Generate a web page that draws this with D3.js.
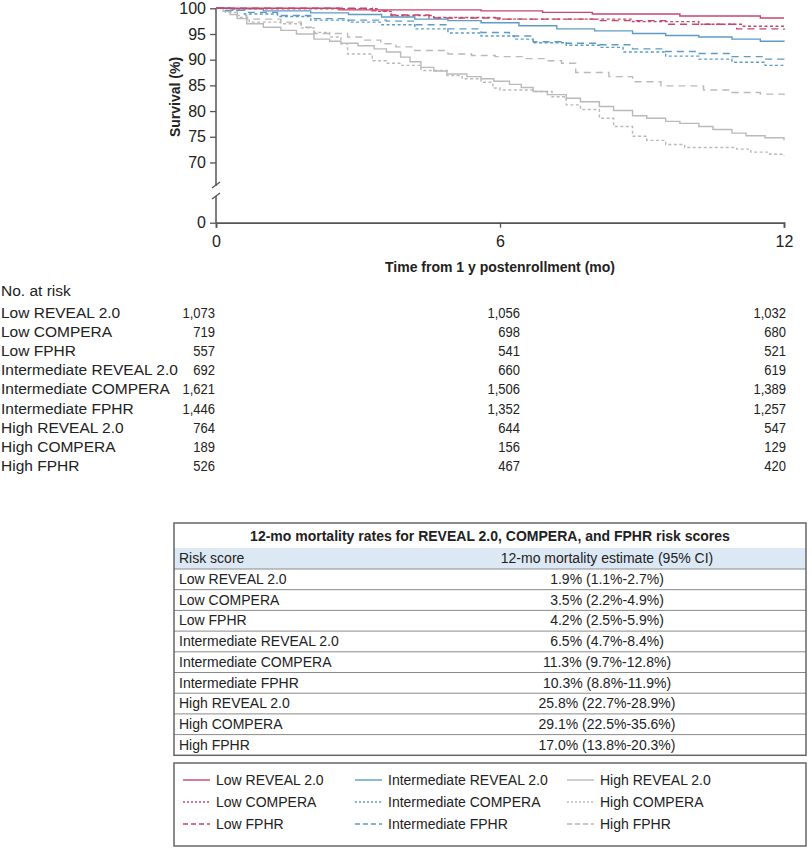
<!DOCTYPE html>
<html><head><meta charset="utf-8">
<script src="https://cdn.jsdelivr.net/npm/d3@7"></script>
<style>body{margin:0;background:#fff}svg{display:block;font-family:"Liberation Sans",Arial,sans-serif}</style>
</head><body>
<svg id="c" width="812" height="849"></svg>
<script>
// ---------- data ----------
const riskNames = ["Low REVEAL 2.0","Low COMPERA","Low FPHR","Intermediate REVEAL 2.0","Intermediate COMPERA","Intermediate FPHR","High REVEAL 2.0","High COMPERA","High FPHR"];
const riskLevel = ["low","low","low","int","int","int","high","high","high"];
const riskModel = ["reveal","compera","fphr","reveal","compera","fphr","reveal","compera","fphr"];
const atRisk0  = ["1,073","719","557","692","1,621","1,446","764","189","526"];
const atRisk6  = ["1,056","698","541","660","1,506","1,352","644","156","467"];
const atRisk12 = ["1,032","680","521","619","1,389","1,257","547","129","420"];
const mortality = ["1.9% (1.1%-2.7%)","3.5% (2.2%-4.9%)","4.2% (2.5%-5.9%)","6.5% (4.7%-8.4%)","11.3% (9.7%-12.8%)","10.3% (8.8%-11.9%)","25.8% (22.7%-28.9%)","29.1% (22.5%-35.6%)","17.0% (13.8%-20.3%)"];
const yTicks = [100,95,90,85,80,75,70];
const xTicks = [0,6,12];

const lowReveal  = [[0,100],[2.6,99.7],[5.6,99.5],[6.9,99.2],[7.95,98.9],[9.8,98.5],[11.5,98.1],[12,98.1]];
const lowCompera = [[0,100],[0.3,99.9],[3.4,99.4],[3.7,98.6],[4.6,98.2],[5.9,97.9],[8.8,97.4],[10.2,96.9],[11.1,96.5],[12,96.5]];
const lowFphr    = [[0,100],[3.3,99.5],[3.7,98.7],[4.5,98.1],[6.0,97.9],[8.1,97.6],[9.5,96.9],[11,96.0],[12,95.8]];
const intReveal  = [[0,100],[0.3,99.9],[1.0,99.5],[2.0,99.1],[2.8,98.8],[3.5,98.3],[4.2,97.9],[4.9,97.6],[5.6,97.2],[6.4,96.6],[7.2,96.0],[8.0,95.6],[8.8,95.1],[9.5,94.7],[10.2,94.4],[10.9,94.0],[11.5,93.6],[12,93.5]];
const intCompera = [[0,100],[0.2,99.6],[0.6,98.9],[1.3,98.4],[2.0,97.7],[2.8,97.3],[3.5,96.8],[4.2,96.0],[4.9,95.2],[5.6,94.6],[6.3,94.0],[6.7,93.3],[7.4,92.8],[8.1,92.4],[8.6,91.5],[9.5,90.7],[10.2,90.1],[10.9,89.5],[11.6,88.9],[12,88.7]];
const intFphr    = [[0,100],[0.2,99.6],[0.6,99.2],[1.3,98.6],[2.0,98.0],[2.8,97.7],[3.6,97.5],[4.2,96.8],[4.9,96.0],[5.6,95.3],[6.2,94.6],[6.7,93.5],[7.4,93.2],[8.1,92.9],[8.8,92.1],[9.5,91.6],[10.2,91.2],[10.9,90.6],[11.6,90.1],[12,89.8]];
const highReveal = [[0,100],[0.15,99.4],[0.3,98.8],[0.45,98.0],[0.65,97.0],[1.0,96.3],[1.37,95.7],[1.7,95.0],[2.07,94.0],[2.4,93.6],[2.64,93.2],[3.0,92.7],[3.34,92.1],[3.6,91.5],[3.9,90.5],[4.1,89.6],[4.33,88.5],[4.6,87.8],[4.88,87.2],[5.3,86.7],[5.6,86.3],[5.87,85.8],[6.2,85.2],[6.45,84.6],[6.7,83.8],[7.0,83.2],[7.4,82.5],[7.7,81.8],[8.1,80.9],[8.4,80.1],[8.8,79.1],[9.1,78.6],[9.5,78.0],[9.8,77.6],[10.2,77.0],[10.5,76.4],[10.9,75.7],[11.2,75.2],[11.6,74.8],[12,74.3]];
const highCompera= [[0,100],[0.2,99.2],[0.45,98.2],[0.7,97.3],[1.37,97.0],[1.8,96.2],[2.07,95.3],[2.4,94.4],[2.64,93.1],[2.78,91.1],[3.3,89.8],[3.6,89.3],[3.9,88.9],[4.33,87.9],[4.88,86.9],[5.2,86.3],[5.6,85.6],[5.85,84.5],[6.0,84.1],[6.7,83.8],[7.1,82.8],[7.4,81.2],[7.7,80.3],[8.1,78.6],[8.4,77.0],[8.8,75.1],[9.1,74.3],[9.5,73.5],[9.9,72.9],[11.0,72.6],[11.3,72.0],[11.7,71.6],[12,71.3]];
const highFphr   = [[0,100],[0.2,99.4],[0.45,98.6],[0.65,97.9],[1.37,97.3],[1.8,96.3],[2.07,95.1],[2.78,94.4],[3.1,93.8],[3.48,93.1],[3.8,92.5],[4.2,91.8],[4.9,91.1],[5.4,90.8],[5.9,90.6],[6.5,90.2],[7.0,89.8],[7.3,89.3],[7.6,87.5],[8.3,86.7],[8.8,85.7],[9.4,84.9],[10.3,84.1],[10.9,83.6],[11.5,83.3],[12,83.1]];
const curves = [lowReveal,lowCompera,lowFphr,intReveal,intCompera,intFphr,highReveal,highCompera,highFphr];

// ---------- styles ----------
const colorOf = {low:"#c8456c", int:"#5e9cc6", high:"#bababa"};
const dashOf  = {reveal:null, compera:"3,2.5", fphr:"7,5"};
const legDash = {reveal:null, compera:"2,2", fphr:"5,3"};
const FONT = 14;
const TICKFONT = 16;

const svg = d3.select("#c");

// ---------- scales ----------
const x = d3.scaleLinear().domain([0,12]).range([216,784]);
const y = d3.scaleLinear().domain([66,100]).range([183,8.3]);
const yZero = 222.7;

// axes
const axisColor = "#555";
const styleTicks = g => {
  g.selectAll(".tick line").attr("stroke",axisColor).attr("stroke-width",1.3);
  g.selectAll("text").attr("font-size",TICKFONT).attr("fill","#222").attr("font-family","Liberation Sans, Arial");
};
const gY = svg.append("g").attr("transform","translate(216,0)")
  .call(d3.axisLeft(y).tickValues(yTicks).tickSize(6).tickPadding(4));
gY.select(".domain").remove();
styleTicks(gY);
svg.append("line").attr("x1",216).attr("x2",216).attr("y1",y(100)).attr("y2",186).attr("stroke",axisColor).attr("stroke-width",1.5);
svg.append("line").attr("x1",216).attr("x2",216).attr("y1",196).attr("y2",yZero).attr("stroke",axisColor).attr("stroke-width",1.5);
svg.append("line").attr("x1",212).attr("x2",220).attr("y1",188).attr("y2",182).attr("stroke",axisColor).attr("stroke-width",1.3);
svg.append("line").attr("x1",212).attr("x2",220).attr("y1",199).attr("y2",193).attr("stroke",axisColor).attr("stroke-width",1.3);
const yLow = d3.scaleLinear().domain([0,1]).range([yZero,yZero-10]);
const gY0 = svg.append("g").attr("transform","translate(216,0)")
  .call(d3.axisLeft(yLow).tickValues([0]).tickFormat(d3.format("d")).tickSize(6).tickPadding(4));
gY0.select(".domain").remove();
styleTicks(gY0);

const gX = svg.append("g").attr("transform",`translate(0,${yZero})`)
  .call(d3.axisBottom(x).tickValues(xTicks).tickSize(5).tickPadding(8));
gX.select(".domain").attr("stroke",axisColor).attr("stroke-width",1.8);
styleTicks(gX);

svg.append("text").attr("x",500).attr("y",272).attr("text-anchor","middle")
  .attr("font-size",FONT).attr("font-weight","bold").attr("fill","#222")
  .text("Time from 1 y postenrollment (mo)");
svg.append("text").attr("transform","translate(180,97) rotate(-90)").attr("text-anchor","middle")
  .attr("font-size",FONT).attr("font-weight","bold").attr("fill","#222")
  .text("Survival (%)");

// ---------- curves ----------
const line = d3.line().x(d=>x(d[0])).y(d=>y(d[1])).curve(d3.curveStepAfter);
const order = [6,7,8,3,4,5,0,1,2];
order.forEach(i=>{
  svg.append("path").datum(curves[i]).attr("d",line)
    .attr("fill","none").attr("stroke",colorOf[riskLevel[i]])
    .attr("stroke-width",1.4)
    .attr("stroke-dasharray",dashOf[riskModel[i]]);
});

// ---------- number at risk ----------
const NARFONT = 15.5;
svg.append("text").attr("x",1).attr("y",296).attr("font-size",NARFONT).attr("fill","#222").text("No. at risk");
const rowY = i => 318 + i*19.1;
const nar = svg.append("g").attr("font-size",NARFONT).attr("fill","#222");
const num = (xx,yy,t) => nar.append("text")
  .attr("transform",`translate(${xx},${yy}) scale(0.84,1)`)
  .attr("text-anchor","end").text(t);
riskNames.forEach((n,i)=>{
  nar.append("text").attr("x",1).attr("y",rowY(i)).text(n);
  num(215,rowY(i),atRisk0[i]);
  num(520,rowY(i),atRisk6[i]);
  num(786,rowY(i),atRisk12[i]);
});

// ---------- mortality table ----------
const tL=174, tR=806, tTop=523, titleH=25, headH=21, rowH=20.7;
const tb = svg.append("g");
tb.append("rect").attr("x",tL).attr("y",tTop+titleH).attr("width",tR-tL).attr("height",headH).attr("fill","#dce9f5");
tb.append("text").attr("x",(tL+tR)/2).attr("y",tTop+18).attr("text-anchor","middle").attr("font-size",FONT).attr("font-weight","bold").attr("fill","#222")
  .text("12-mo mortality rates for REVEAL 2.0, COMPERA, and FPHR risk scores");
tb.append("text").attr("x",tL+5).attr("y",tTop+titleH+15).attr("font-size",FONT).attr("fill","#222").text("Risk score");
tb.append("text").attr("x",607).attr("y",tTop+titleH+15).attr("text-anchor","middle").attr("font-size",FONT).attr("fill","#222").text("12-mo mortality estimate (95% CI)");
const r0 = tTop+titleH+headH;
riskNames.forEach((n,i)=>{
  const yy = r0 + i*rowH;
  tb.append("line").attr("x1",tL).attr("x2",tR).attr("y1",yy).attr("y2",yy).attr("stroke","#8a8a8a").attr("stroke-width",1);
  tb.append("text").attr("x",tL+5).attr("y",yy+15).attr("font-size",FONT).attr("fill","#222").text(n);
  tb.append("text").attr("x",607).attr("y",yy+15).attr("text-anchor","middle").attr("font-size",FONT).attr("fill","#222").text(mortality[i]);
});
const tBot = r0 + riskNames.length*rowH;
tb.append("rect").attr("x",tL).attr("y",tTop).attr("width",tR-tL).attr("height",tBot-tTop).attr("fill","none").attr("stroke","#666").attr("stroke-width",1.5);

// ---------- legend ----------
const lg = svg.append("g");
const lgTop=763, lgBot=846;
lg.append("rect").attr("x",tL).attr("y",lgTop).attr("width",tR-tL).attr("height",lgBot-lgTop).attr("fill","none").attr("stroke","#666").attr("stroke-width",1.5);
const colX = [183,355,567];
const legRowY = [785,807,829];
riskNames.forEach((n,i)=>{
  const c = Math.floor(i/3), r = i%3;
  const cx = colX[c], cy = legRowY[r];
  lg.append("line").attr("x1",cx).attr("x2",cx+27).attr("y1",cy-5).attr("y2",cy-5)
    .attr("stroke",colorOf[riskLevel[i]]).attr("stroke-width",1.4).attr("stroke-dasharray",legDash[riskModel[i]]);
  lg.append("text").attr("x",cx+33).attr("y",cy).attr("font-size",FONT).attr("fill","#222").text(n);
});
</script>
</body></html>
